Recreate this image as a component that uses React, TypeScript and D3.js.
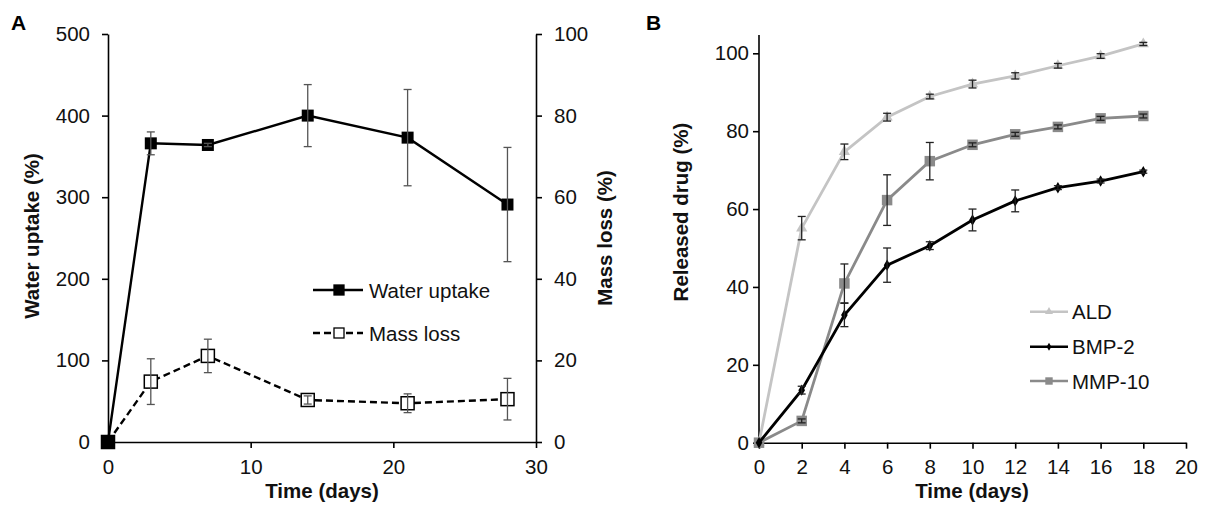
import React, { useEffect, useRef } from "react";
import * as d3 from "d3";

// Panel A: swelling / degradation
const daysA = [0, 3, 7, 14, 21, 28];
const waterUptake = [0, 366, 364, 400, 373, 291];
const waterUptakeErr = [0, 14, 2, 38, 59, 70];
const massLoss = [0, 14.8, 21.1, 10.3, 9.5, 10.5];
const massLossErr = [0, 5.6, 4.1, 1, 2.3, 5.1];
const ticksAx = [0, 10, 20, 30];
const ticksAleft = [0, 100, 200, 300, 400, 500];
const ticksAright = [0, 20, 40, 60, 80, 100];

// Panel B: release
const daysB = [0, 2, 4, 6, 8, 10, 12, 14, 16, 18];
const ald = [0, 55.1, 74.7, 83.6, 88.9, 92.1, 94.2, 96.8, 99.3, 102.4];
const aldErr = [0, 3, 2, 1, 0.6, 1, 0.8, 0.6, 0.6, 0.4];
const bmp2 = [0, 13.5, 32.8, 45.6, 50.6, 57.2, 62.1, 65.5, 67.2, 69.6];
const bmp2Err = [0, 1, 3, 4.4, 1, 2.8, 2.8, 0.5, 0.5, 0.4];
const mmp10 = [0, 5.6, 40.9, 62.3, 72.3, 76.5, 79.2, 81.1, 83.3, 83.9];
const mmp10Err = [0, 0.5, 5, 6.5, 4.8, 0.5, 0.5, 0.5, 0.5, 0.5];
const ticksBx = [0, 2, 4, 6, 8, 10, 12, 14, 16, 18, 20];
const ticksBy = [0, 20, 40, 60, 80, 100];

const FONT = "'Liberation Sans', Arial, sans-serif";
const FS = 20.5;

export default function App() {
  const ref = useRef<SVGSVGElement>(null);

  useEffect(() => {
    const svg = d3.select(ref.current);
    svg.selectAll("*").remove();

    const styleAxis = (g: any) => {
      g.select(".domain").attr("stroke", "#000").attr("stroke-width", 1.6);
      g.selectAll(".tick line").attr("stroke", "#000").attr("stroke-width", 1.6);
      g.selectAll(".tick text")
        .attr("font-family", FONT)
        .attr("font-size", FS)
        .attr("fill", "#111");
    };

    const title = (x: number, y: number, txt: string, rotate = false) =>
      svg.append("text")
        .attr("transform", rotate ? `translate(${x},${y}) rotate(-90)` : `translate(${x},${y})`)
        .attr("text-anchor", "middle")
        .attr("font-family", FONT).attr("font-size", FS).attr("font-weight", "bold")
        .attr("fill", "#111")
        .text(txt);

    // ---------- Panel A ----------
    const xA = d3.scaleLinear().domain([0, 30]).range([108, 536]);
    const yL = d3.scaleLinear().domain([0, 500]).range([442, 34]);
    const yR = d3.scaleLinear().domain([0, 100]).range([442, 34]);

    svg.append("g")
      .attr("transform", "translate(0,442)")
      .call(d3.axisBottom(xA).tickValues(ticksAx).tickSize(6).tickSizeOuter(0).tickPadding(11))
      .call(styleAxis);
    svg.append("g")
      .attr("transform", "translate(108,0)")
      .call(d3.axisLeft(yL).tickValues(ticksAleft).tickSize(6).tickSizeOuter(0).tickPadding(12))
      .call(styleAxis);
    svg.append("g")
      .attr("transform", "translate(536,0)")
      .call(d3.axisRight(yR).tickValues(ticksAright).tickSize(6).tickSizeOuter(0).tickPadding(12))
      .call(styleAxis);

    const errBars = (xs: number[], ys: number[], es: number[], x: any, y: any, color: string, cap: number) => {
      const g = svg.append("g").attr("stroke", color).attr("stroke-width", 1.3);
      xs.forEach((d, i) => {
        if (!es[i]) return;
        const cx = x(d), y1 = y(ys[i] + es[i]), y2 = y(ys[i] - es[i]);
        g.append("line").attr("x1", cx).attr("x2", cx).attr("y1", y1).attr("y2", y2);
        g.append("line").attr("x1", cx - cap).attr("x2", cx + cap).attr("y1", y1).attr("y2", y1);
        g.append("line").attr("x1", cx - cap).attr("x2", cx + cap).attr("y1", y2).attr("y2", y2);
      });
    };

    // mass loss (dashed, hollow)
    svg.append("path")
      .datum(daysA.map((d, i) => [xA(d), yR(massLoss[i])] as [number, number]))
      .attr("fill", "none").attr("stroke", "#000").attr("stroke-width", 2.4)
      .attr("stroke-dasharray", "7,4")
      .attr("d", d3.line());
    // water uptake (solid)
    svg.append("path")
      .datum(daysA.map((d, i) => [xA(d), yL(waterUptake[i])] as [number, number]))
      .attr("fill", "none").attr("stroke", "#000").attr("stroke-width", 2.4)
      .attr("d", d3.line());

    svg.append("g").selectAll("rect").data(daysA).join("rect")
      .attr("x", (d) => xA(d) - 6.5).attr("y", (d, i) => yR(massLoss[i]) - 6.5)
      .attr("width", 13).attr("height", 13)
      .attr("fill", "#fff").attr("stroke", "#000").attr("stroke-width", 1.5);
    svg.append("g").selectAll("rect").data(daysA).join("rect")
      .attr("x", (d) => xA(d) - 6).attr("y", (d, i) => yL(waterUptake[i]) - 6)
      .attr("width", 12).attr("height", 12).attr("fill", "#000");

    errBars(daysA, waterUptake, waterUptakeErr, xA, yL, "#555", 4);
    errBars(daysA, massLoss, massLossErr, xA, yR, "#555", 4);

    // legend A
    const legA = [
      { label: "Water uptake", y: 290, dash: null, fill: "#000" },
      { label: "Mass loss", y: 333, dash: "7,4", fill: "#fff" },
    ];
    legA.forEach((l) => {
      svg.append("line").attr("x1", 313).attr("x2", 363).attr("y1", l.y).attr("y2", l.y)
        .attr("stroke", "#000").attr("stroke-width", 2.4).attr("stroke-dasharray", l.dash);
      svg.append("rect").attr("x", 334).attr("y", l.y - 5).attr("width", 10).attr("height", 10)
        .attr("fill", l.fill).attr("stroke", "#000").attr("stroke-width", 1.3);
      svg.append("text").attr("x", 369).attr("y", l.y + 7.5)
        .attr("font-family", FONT).attr("font-size", FS).attr("fill", "#111").text(l.label);
    });

    // titles A
    title(322, 498, "Time (days)");
    title(39, 236, "Water uptake (%)", true);
    title(612, 238, "Mass loss (%)", true);
    svg.append("text").attr("x", 11).attr("y", 30)
      .attr("font-family", FONT).attr("font-size", 21).attr("font-weight", "bold").text("A");

    // ---------- Panel B ----------
    const xB = d3.scaleLinear().domain([0, 20]).range([759, 1186]);
    const yB = d3.scaleLinear().domain([0, 100]).range([442.7, 53.3]);

    svg.append("g")
      .attr("transform", "translate(0,442.7)")
      .call(d3.axisBottom(xB).tickValues(ticksBx).tickSize(6).tickSizeOuter(0).tickPadding(11))
      .call(styleAxis);
    const gy = svg.append("g")
      .attr("transform", "translate(759,0)")
      .call(d3.axisLeft(yB).tickValues(ticksBy).tickSize(6).tickSizeOuter(0).tickPadding(4))
      .call(styleAxis);
    gy.select(".domain").attr("d", `M0,${yB(0)}V${yB(104.7)}`);

    const seriesB = [
      { name: "ALD", vals: ald, err: aldErr, color: "#c4c4c4", sym: d3.symbolTriangle, size: 55 },
      { name: "MMP-10", vals: mmp10, err: mmp10Err, color: "#8a8a8a", sym: d3.symbolSquare, size: 110 },
      { name: "BMP-2", vals: bmp2, err: bmp2Err, color: "#000", sym: d3.symbolDiamond, size: 38 },
    ];
    seriesB.forEach((s) => {
      svg.append("path")
        .datum(daysB.map((d, i) => [xB(d), yB(s.vals[i])] as [number, number]))
        .attr("fill", "none").attr("stroke", s.color).attr("stroke-width", 2.8)
        .attr("d", d3.line());
      svg.append("g").selectAll("path").data(daysB).join("path")
        .attr("transform", (d, i) => `translate(${xB(d)},${yB(s.vals[i])})`)
        .attr("d", d3.symbol().type(s.sym).size(s.size)())
        .attr("fill", s.color);
    });
    seriesB.forEach((s) => errBars(daysB, s.vals, s.err, xB, yB, "#222", 4));

    // legend B
    const legB = [
      { s: seriesB[0], y: 311.7 },
      { s: seriesB[2], y: 346.7 },
      { s: seriesB[1], y: 381 },
    ];
    legB.forEach(({ s, y }) => {
      svg.append("line").attr("x1", 1030).attr("x2", 1068).attr("y1", y).attr("y2", y)
        .attr("stroke", s.color).attr("stroke-width", 2.4);
      svg.append("path").attr("transform", `translate(1049,${y})`)
        .attr("d", d3.symbol().type(s.sym).size(s.size * 0.5)()).attr("fill", s.color);
      svg.append("text").attr("x", 1072).attr("y", y + 7.5)
        .attr("font-family", FONT).attr("font-size", FS).attr("fill", "#111").text(s.name);
    });

    title(972, 498, "Time (days)");
    title(688, 212, "Released drug (%)", true);
    svg.append("text").attr("x", 646).attr("y", 30)
      .attr("font-family", FONT).attr("font-size", 21).attr("font-weight", "bold").text("B");
  }, []);

  return (
    <svg
      ref={ref}
      width={1205}
      height={506}
      style={{ position: "absolute", left: 0, top: 0, background: "#fff" }}
    />
  );
}
